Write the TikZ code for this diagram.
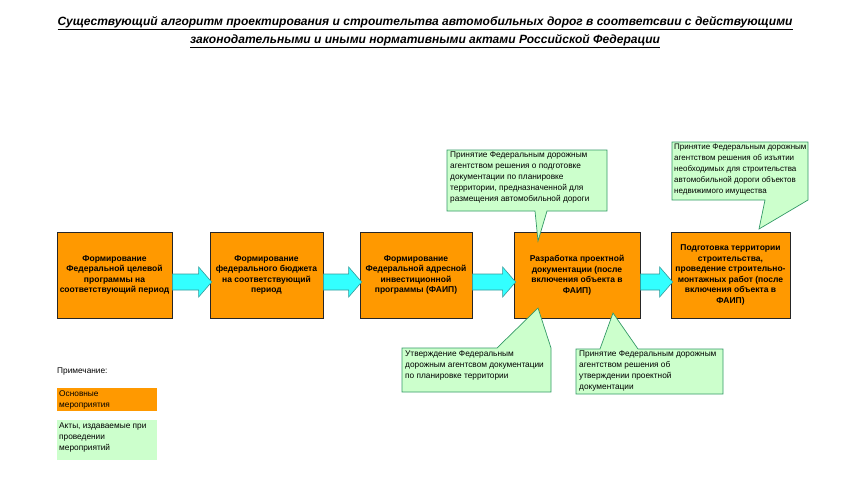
\documentclass[tikz,border=0pt]{standalone}
\usepackage{fontspec}
\setmainfont{Liberation Sans}
\usepackage{graphicx}
\usetikzlibrary{calc}
\definecolor{orangeF}{HTML}{FF9900}
\definecolor{cyanF}{HTML}{33FFFF}
\definecolor{cyanD}{HTML}{339999}
\definecolor{greenF}{HTML}{CCFFCC}
\definecolor{greenD}{HTML}{339966}
\begin{document}
\begin{tikzpicture}[x=1pt,y=-1pt,
  mainbox/.style={draw=black!85, fill=orangeF, line width=0.7pt, align=center,
    font=\fontsize{8.5}{10.5}\selectfont\bfseries, inner sep=0pt, minimum height=86},
  blockarrow/.style={draw=cyanD, fill=cyanF, line width=0.6pt, line join=miter},
  calloutshape/.style={draw=greenD, fill=greenF, line width=0.7pt, line join=miter},
  callouttext/.style={anchor=north west, align=left, inner sep=0pt,
    font=\fontsize{8.3}{11}\selectfont},
  legendtext/.style={anchor=north west, align=left, inner sep=0pt,
    font=\fontsize{8.3}{11}\selectfont}
]
\useasboundingbox (0,0) rectangle (850,482);
\fill[white] (0,0) rectangle (850,482);

% title
\node[inner sep=0pt] (t1) at (425,23) {\resizebox{735pt}{\height}{\fontsize{12}{14}\selectfont\bfseries\itshape\underline{Существующий алгоритм проектирования и строительтва автомобильных дорог в соответсвии с действующими}}};
\node[inner sep=0pt] (t2) at (425,41) {\resizebox{470pt}{\height}{\fontsize{12}{14}\selectfont\bfseries\itshape\underline{законодательными и иными нормативными актами Российской Федерации}}};

% main boxes
\node[mainbox, minimum width=115] (b1) at (114.5,275) {Формирование\\Федеральной целевой\\программы на\\соответствующий период};
\node[mainbox, minimum width=113] (b2) at (266.5,275) {Формирование\\федерального бюджета\\на соответствующий\\период};
\node[mainbox, minimum width=112] (b3) at (416,275) {Формирование\\Федеральной адресной\\инвестиционной\\программы (ФАИП)};
\node[mainbox, minimum width=126] (b4) at (577,275) {Разработка проектной\\документации (после\\включения объекта в\\ФАИП)};
\node[mainbox, minimum width=119] (b5) at (730.5,275) {Подготовка территории\\строительства,\\проведение строительно-\\монтажных работ (после\\включения объекта в\\ФАИП)};

% block arrows
\foreach \a/\b in {b1/b2, b2/b3, b3/b4, b4/b5}{
  \draw[blockarrow] let \p1=(\a.east), \p2=(\b.west) in
    (\x1,\y1-15pt) -- (\x2-11pt,\y1-15pt) -- (\x2-11pt,\y1-22pt) -- (\x2+2pt,\y1-7pt)
    -- (\x2-11pt,\y1+8pt) -- (\x2-11pt,\y1+1pt) -- (\x1,\y1+1pt) -- cycle;
}

% callouts
\draw[calloutshape] (447,150) -- (607,150) -- (607,211) -- (547,211) -- (538,241) -- (535,211) -- (447,211) -- cycle;
\node[callouttext] (cA) at (450,152) {Принятие Федеральным дорожным\\агентством решения о подготовке\\документации по планировке\\территории, предназначенной для\\размещения автомобильной дороги};

\draw[calloutshape] (672,142) -- (808,142) -- (808,200) -- (759,229) -- (765,200) -- (672,200) -- cycle;
\node[callouttext, font=\fontsize{8}{11}\selectfont] (cB) at (674,144) {Принятие Федеральным дорожным\\агентством решения об изъятии\\необходимых для строительства\\автомобильной дороги объектов\\недвижимого имущества};

\draw[calloutshape] (402,348) -- (497,348) -- (538,308) -- (551,348) -- (551,392) -- (402,392) -- cycle;
\node[callouttext] (cC) at (405,351) {Утверждение Федеральным\\дорожным агентсвом документации\\по планировке территории};

\draw[calloutshape] (576,349) -- (600,349) -- (613,313) -- (638,349) -- (723,349) -- (723,394) -- (576,394) -- cycle;
\node[callouttext] (cD) at (579,351) {Принятие Федеральным дорожным\\агентством решения об\\утверждении проектной\\документации};

% legend
\node[legendtext] (note) at (57,368) {Примечание:};
\fill[orangeF] (57,388) rectangle (157,411);
\node[legendtext] (lg1) at (59,390) {Основные\\мероприятия};
\fill[greenF] (57,420) rectangle (157,460);
\node[legendtext] (lg2) at (59,423) {Акты, издаваемые при\\проведении\\мероприятий};
\end{tikzpicture}
\end{document}
